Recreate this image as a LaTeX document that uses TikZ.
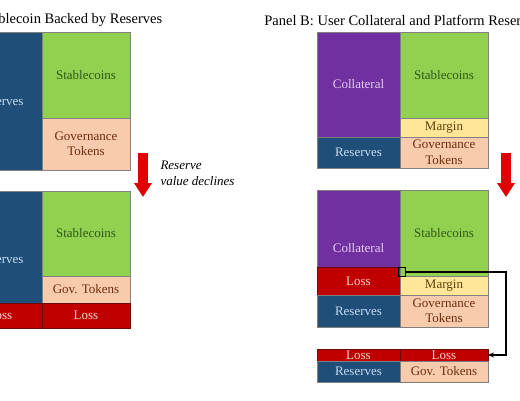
\documentclass[tikz,border=0pt]{standalone}
\usepackage{fontspec}
\setmainfont{Liberation Serif}
\usepackage{tikz}
\usetikzlibrary{arrows.meta}
\definecolor{reserveBlue}{HTML}{1F4E79}
\definecolor{reserveText}{HTML}{C5DDF2}
\definecolor{coinGreen}{HTML}{92D050}
\definecolor{coinText}{HTML}{2F5A16}
\definecolor{tokenPeach}{HTML}{F8CBAD}
\definecolor{tokenText}{HTML}{6E2E0C}
\definecolor{marginYellow}{HTML}{FFE699}
\definecolor{marginText}{HTML}{5E420A}
\definecolor{collPurple}{HTML}{7030A0}
\definecolor{collText}{HTML}{E6CCF7}
\definecolor{lossRed}{HTML}{C00000}
\definecolor{lossText}{HTML}{FAD0D0}
\definecolor{lossEdge}{HTML}{6A0A0A}
\definecolor{cellEdge}{HTML}{808080}
\definecolor{arrowRed}{HTML}{E00000}

\begin{document}
\begin{tikzpicture}[x=1pt,y=-1pt,
  cell/.style={draw=cellEdge,line width=0.5pt,inner sep=0pt,outer sep=0pt,
    align=center,font=\fontsize{13}{15.5}\selectfont},
  loss/.style={cell,draw=lossEdge,fill=lossRed,text=lossText},
  title/.style={font=\fontsize{14.5}{17}\selectfont},
  dropArrow/.style={arrowRed,line width=10pt,-{Triangle[width=17pt,length=14pt]}},
  flow/.style={black,line width=1.1pt,-{Stealth[length=6pt,width=5pt]}}]
\useasboundingbox (0,0) rectangle (520,400);
\clip (0,0) rectangle (520,400);
\fill[white] (0,0) rectangle (520,400);

% Panel A
\node[title] (titleA) at (44,20) {Panel A: Stablecoin Backed by Reserves};
\node[cell,fill=reserveBlue,text=reserveText,minimum width=84pt,minimum height=138pt] (aRes) at (0,101) {Reserves};
\node[cell,fill=coinGreen,text=coinText,minimum width=88pt,minimum height=86pt] (aCoins) at (86,75) {Stablecoins};
\node[cell,fill=tokenPeach,text=tokenText,minimum width=88pt,minimum height=52pt] (aGov) at (86,144) {Governance\\Tokens};

\draw[dropArrow] (143,153) -- (143,197);
\node[font=\fontsize{13}{16.5}\selectfont\itshape,align=left,anchor=west] (declineNote) at (157,173.5) {Reserve\\value declines};

\node[cell,fill=reserveBlue,text=reserveText,minimum width=84pt,minimum height=137pt] (bRes) at (0,259.5) {Reserves};
\node[cell,fill=coinGreen,text=coinText,minimum width=88pt,minimum height=85pt] (bCoins) at (86,233.5) {Stablecoins};
\node[cell,fill=tokenPeach,text=tokenText,minimum width=88pt,minimum height=27pt] (bGov) at (86,289.5) {Gov. Tokens};
\node[loss,minimum width=84pt,minimum height=25pt] (bLossL) at (0,315.5) {Loss};
\node[loss,minimum width=88pt,minimum height=25pt] (bLossR) at (86,315.5) {Loss};

% Panel B
\node[title] (titleB) at (402.5,20) {Panel B: User Collateral and Platform Reserves};
\node[cell,fill=collPurple,text=collText,minimum width=83pt,minimum height=105pt] (cColl) at (358.5,84.5) {Collateral};
\node[cell,fill=reserveBlue,text=reserveText,minimum width=83pt,minimum height=31pt] (cRes) at (358.5,152.5) {Reserves};
\node[cell,fill=coinGreen,text=coinText,minimum width=88pt,minimum height=86pt] (cCoins) at (444,75) {Stablecoins};
\node[cell,fill=marginYellow,text=marginText,minimum width=88pt,minimum height=19pt] (cMargin) at (444,127.5) {Margin};
\node[cell,fill=tokenPeach,text=tokenText,minimum width=88pt,minimum height=31pt] (cGov) at (444,152.5) {Governance\\Tokens};

\draw[dropArrow] (506,153) -- (506,197);

\node[cell,fill=collPurple,text=collText,minimum width=83pt,minimum height=116pt] (dColl) at (358.5,248) {Collateral};
\node[loss,minimum width=83pt,minimum height=28pt] (dLoss) at (358.5,281) {Loss};
\node[cell,fill=reserveBlue,text=reserveText,minimum width=83pt,minimum height=32pt] (dRes) at (358.5,311) {Reserves};
\node[cell,fill=coinGreen,text=coinText,minimum width=88pt,minimum height=86pt] (dCoins) at (444,233) {Stablecoins};
\node[cell,fill=marginYellow,text=marginText,minimum width=88pt,minimum height=19pt] (dMargin) at (444,285.5) {Margin};
\node[cell,fill=tokenPeach,text=tokenText,minimum width=88pt,minimum height=32pt] (dGov) at (444,311) {Governance\\Tokens};

\node[loss,minimum width=83pt,minimum height=12pt] (eLossL) at (358.5,355) {Loss};
\node[loss,minimum width=88pt,minimum height=12pt] (eLossR) at (444,355) {Loss};
\node[cell,fill=reserveBlue,text=reserveText,minimum width=83pt,minimum height=21pt] (eRes) at (358.5,371.5) {Reserves};
\node[cell,fill=tokenPeach,text=tokenText,minimum width=88pt,minimum height=21pt] (eGov) at (444,371.5) {Gov. Tokens};

% loss passed down
\node[draw=black,line width=1pt,inner sep=0pt,outer sep=0pt,minimum width=7pt,minimum height=9pt] (lossTab) at (401.5,272) {};
\coordinate (loopCorner) at (506,272);
\draw[flow] (lossTab.east) -- (loopCorner) |- (eLossR.east);
\end{tikzpicture}
\end{document}
